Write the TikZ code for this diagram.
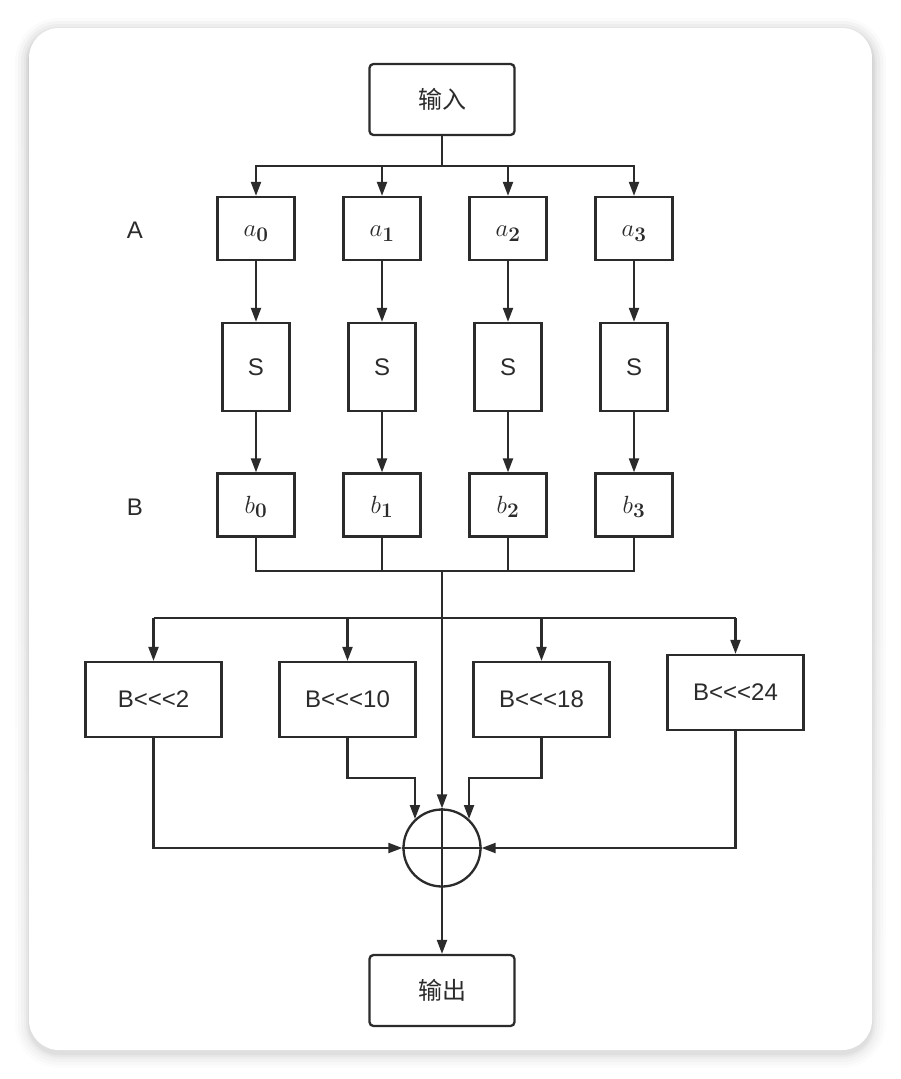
\documentclass[tikz,border=0pt]{standalone}
\usepackage[no-math]{fontspec}
\setmainfont{Liberation Sans}[Ligatures=TeXOff]
\newfontfamily\cjk{Noto Sans CJK SC}
\usetikzlibrary{arrows.meta,calc}
\definecolor{ink}{HTML}{2B2B2B}
\definecolor{shade}{HTML}{000000}
\newcommand{\bitem}[2]{\raisebox{-8pt}[0pt][0pt]{$#1_{\mathbf{#2}}$}}
\begin{document}
\begin{tikzpicture}[x=1pt,y=-1pt,
  line width=2pt, draw=ink,
  box/.style={draw=ink, line width=2.3pt, inner sep=0pt, font=\fontsize{24}{28}\selectfont, text=ink},
  rbox/.style={box, rounded corners=4pt, minimum width=145pt, minimum height=71pt, font=\fontsize{24}{28}\selectfont},
  abox/.style={box, minimum width=77pt, minimum height=63pt, font=\fontsize{31}{35}\selectfont},
  sbox/.style={box, minimum width=67pt, minimum height=88pt},
  rotbox/.style={box, minimum width=136pt, minimum height=75pt},
  lbl/.style={font=\fontsize{24}{28}\selectfont, text=ink},
  arr/.style={draw=ink, line width=2.1pt, -{Triangle[length=14pt,width=10pt]}},
  ln/.style={draw=ink, line width=2.1pt}]
\useasboundingbox (0,0) rectangle (901,1079);
% soft shadow and card
\foreach \g/\o in {14/0.010,11/0.014,8/0.018,5/0.024,3/0.03,1/0.04}
  \fill[shade, opacity=\o, rounded corners={30+\g}] (29-\g,28-\g+4) rectangle (872+\g,1050+\g+4);
\fill[white, rounded corners=30pt] (29,28) rectangle (872,1050);

% input / output
\node[rbox] (in) at (442,99.5) {\cjk 输入};
\node[rbox] (out) at (442,990.5) {\cjk 输出};

% row labels
\node[lbl] (labA) at (135,230) {A};
\node[lbl] (labB) at (135,507) {B};

% word bytes, S-boxes, outputs
\foreach \i/\x in {0/256,1/382,2/508,3/634} {
  \node[abox] (a\i) at (\x,228.5) {\bitem{a}{\i}};
  \node[sbox] (s\i) at (\x,367) {S};
  \node[abox] (b\i) at (\x,505) {\bitem{b}{\i}};
}

% rotation boxes
\node[rotbox] (r2)  at (153.5,699.5) {B<<<2};
\node[rotbox] (r10) at (347.5,699.5) {B<<<10};
\node[rotbox] (r18) at (541.5,699.5) {B<<<18};
\node[rotbox] (r24) at (735.5,692.5) {B<<<24};

% XOR
\node[circle, draw=ink, line width=2.3pt, minimum size=77pt, inner sep=0pt] (x) at (442,848) {};
\draw[ln] (x.north) -- (x.south);
\draw[ln] (x.west) -- (x.east);

% fan-out from input
\coordinate (busA) at (442,166);
\draw[ln] (in.south) -- (busA);
\foreach \i in {0,...,3}
  \draw[arr] (busA) -| (a\i.north);

% through S-boxes
\foreach \i in {0,...,3} {
  \draw[arr] (a\i.south) -- (s\i.north);
  \draw[arr] (s\i.south) -- (b\i.north);
}

% collect B
\coordinate (busB) at (442,571);
\foreach \i in {0,...,3}
  \draw[ln] (b\i.south) |- (busB);

% distribute B
\coordinate (busR) at (442,618);
\draw[ln] (busB) -- (busR);
\draw[ln] (r2.north |- busR) -- (r24.north |- busR);
\foreach \r in {r2,r10,r18,r24}
  \draw[arr] (\r.north |- busR) -- (\r.north);
\draw[arr] (busR) -- (x.north);

% into XOR
\draw[arr] (r2.south) |- (x.west);
\draw[arr] (r24.south) |- (x.east);
\coordinate (j10) at (x.133 |- 0,778);
\coordinate (j18) at (x.47 |- 0,778);
\draw[arr] (r10.south) |- (j10) -- (x.133);
\draw[arr] (r18.south) |- (j18) -- (x.47);

% result
\draw[arr] (x.south) -- (out.north);
\end{tikzpicture}
\end{document}
